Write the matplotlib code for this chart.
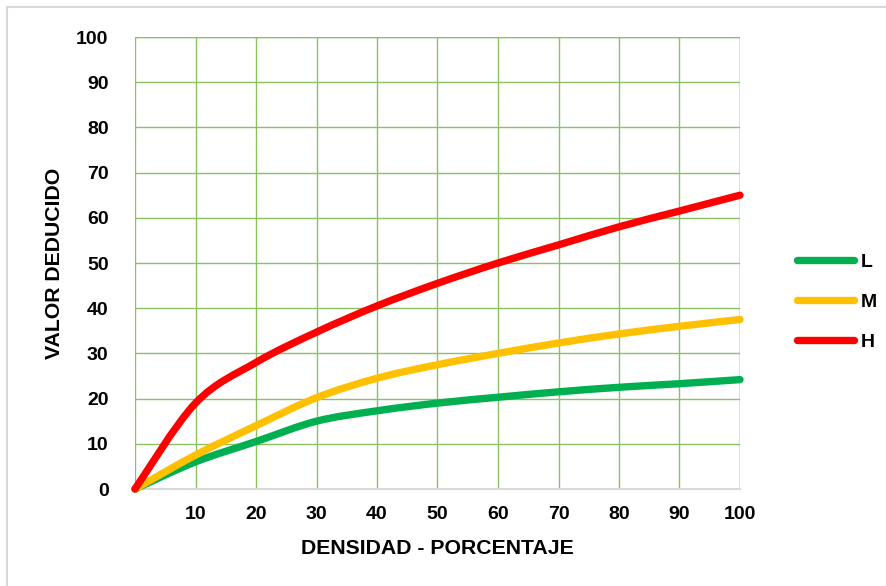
import matplotlib
matplotlib.use("Agg")
import matplotlib.pyplot as plt
from matplotlib.patches import Rectangle, PathPatch
from matplotlib.path import Path
from matplotlib.lines import Line2D

plt.rcParams['font.family'] = ['Liberation Sans', 'DejaVu Sans']

x_L = [0, 10, 20, 30, 40, 50, 60, 70, 80, 90, 100]
y_L = [0, 6, 10.5, 15, 17.3, 19, 20.3, 21.5, 22.5, 23.3, 24.2]
x_M = [0, 10, 20, 30, 40, 50, 60, 70, 80, 90, 100]
y_M = [0, 7.5, 14, 20.2, 24.5, 27.5, 30, 32.3, 34.3, 36, 37.5]
x_H = [0, 10, 20, 30, 40, 50, 60, 70, 80, 90, 100]
y_H = [0, 19, 28, 34.7, 40.5, 45.5, 50, 54, 58, 61.5, 65]

series_names = ['L', 'M', 'H']
colors = ['#00b050', '#ffc000', '#ff0000']
x_ticks = [10, 20, 30, 40, 50, 60, 70, 80, 90, 100]
y_ticks = [0, 10, 20, 30, 40, 50, 60, 70, 80, 90, 100]


def smooth_path(xs, ys):
    """Bezier path through the data points (Excel-style smoothed line)."""
    pts = list(zip(xs, ys))
    n = len(pts)
    verts = [pts[0]]
    codes = [Path.MOVETO]
    for i in range(n - 1):
        p0 = pts[i - 1] if i > 0 else pts[i]
        p1 = pts[i]
        p2 = pts[i + 1]
        p3 = pts[i + 2] if i + 2 < n else pts[i + 1]
        c1 = (p1[0] + (p2[0] - p0[0]) / 6, p1[1] + (p2[1] - p0[1]) / 6)
        c2 = (p2[0] - (p3[0] - p1[0]) / 6, p2[1] - (p3[1] - p1[1]) / 6)
        verts += [c1, c2, p2]
        codes += [Path.CURVE4] * 3
    return Path(verts, codes)


fig = plt.figure(figsize=(8.87, 5.86), dpi=100)
fig.patches.append(Rectangle((7/887, -0.01), 1.0, 1 - 7/586 + 0.01, transform=fig.transFigure,
                             fill=False, edgecolor='#d9d9d9', linewidth=1.5))
ax = fig.add_axes([135/887, 97/586, 605/887, 452/586])

lw = 5.3
for xs, ys, c in zip([x_L, x_M, x_H], [y_L, y_M, y_H], colors):
    patch = PathPatch(smooth_path(xs, ys), facecolor='none', edgecolor=c, linewidth=lw,
                      capstyle='round', joinstyle='round', clip_on=False, zorder=3,
                      transform=ax.transData)
    ax.add_patch(patch)

ax.set_xlim(0, 100)
ax.set_ylim(0, 100)
ax.set_yticks(y_ticks)
ax.set_xticks([0] + x_ticks)
ax.set_xticklabels([''] + [str(v) for v in x_ticks])
ax.grid(True, color='#8cc063', linewidth=1.0, zorder=0)
for s in ['top', 'right', 'left']:
    ax.spines[s].set_visible(False)
ax.spines['bottom'].set_color('#d9d9d9')
ax.spines['bottom'].set_linewidth(1.5)
ax.axhline(100, color='#8cc063', linewidth=1.0, zorder=0)
ax.axvline(100, color='#8cc063', linewidth=1.0, zorder=0)
ax.tick_params(axis='both', length=0, labelsize=14)
ax.tick_params(axis='y', pad=19)
ax.tick_params(axis='x', pad=12)
for lab in ax.get_xticklabels() + ax.get_yticklabels():
    lab.set_fontweight('bold')

ax.set_xlabel('DENSIDAD - PORCENTAJE', fontsize=15.3, fontweight='bold', va='center')
ax.set_ylabel('VALOR DEDUCIDO', fontsize=15.3, fontweight='bold', va='center')
ax.xaxis.set_label_coords((437.5 - 135) / 605, (489 - 548) / 452)
ax.yaxis.set_label_coords((54 - 135) / 605, 0.5)

handles = [Line2D([], [], color=c, linewidth=lw, solid_capstyle='round') for c in colors]
leg = fig.legend(handles, series_names, loc='center left', bbox_to_anchor=(780/887, 1 - 302/586),
                 frameon=False, handlelength=2.9, handletextpad=0.35, labelspacing=1.15,
                 prop={'weight': 'bold', 'size': 14})

fig.savefig('out.png', dpi=100)
